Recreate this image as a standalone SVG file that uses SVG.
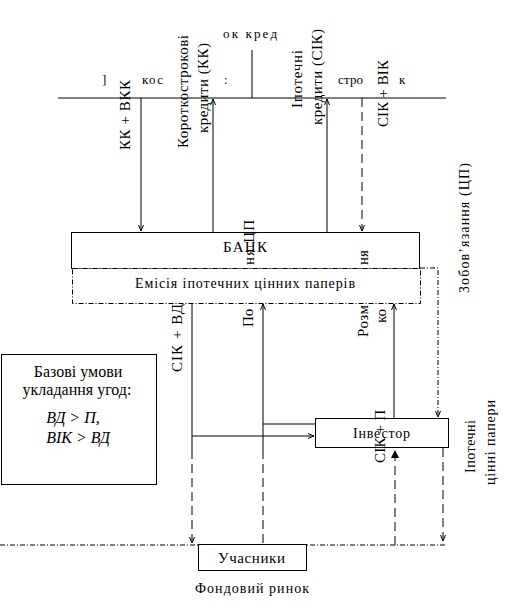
<svg xmlns="http://www.w3.org/2000/svg" width="510" height="611" viewBox="0 0 510 611">
<style>
text{font-family:"Liberation Serif","DejaVu Serif","Times New Roman",serif;fill:#000}
.f13{font-size:13px}.f14{font-size:14px}.f15{font-size:15px}.f16{font-size:16px}
.ln{stroke:#000;stroke-width:1;fill:none}
.dash{stroke:#000;stroke-width:1;fill:none;stroke-dasharray:9,5}
.dd{stroke:#000;stroke-width:1;fill:none;stroke-dasharray:5,2,1,2}
.box{fill:#fff;stroke:#000;stroke-width:1}
.ddbox{fill:#fff;stroke:#000;stroke-width:1;stroke-dasharray:5,2,1,2}
</style>
<defs>
<marker id="arr" markerUnits="userSpaceOnUse" markerWidth="7" markerHeight="7" refX="6" refY="3.5" orient="auto"><path d="M0,1 L6,3.5 L0,6" fill="none" stroke="#000" stroke-width="1"/></marker>
<marker id="arrf" markerUnits="userSpaceOnUse" markerWidth="9" markerHeight="9" refX="8" refY="4.5" orient="auto"><path d="M0,0.5 L8,4.5 L0,8.5 z" fill="#000"/></marker>
</defs>
<rect width="510" height="611" fill="#fff"/>
<g id="connectors">
<line class="ln" x1="58" y1="98" x2="446" y2="98"/>
<line class="ln" x1="252" y1="50" x2="252" y2="98"/>
<line class="ln" x1="141" y1="98" x2="141" y2="231" marker-end="url(#arr)"/>
<line class="ln" x1="213" y1="232" x2="213" y2="99" marker-end="url(#arr)"/>
<line class="ln" x1="327" y1="232" x2="327" y2="99" marker-end="url(#arr)"/>
<line class="dash" x1="362" y1="98" x2="362" y2="231" marker-end="url(#arr)"/>
<polyline class="dd" points="420,268 438,268 438,417" marker-end="url(#arr)"/>
<line class="ln" x1="192" y1="303" x2="192" y2="450"/>
<line class="dash" x1="192" y1="450" x2="192" y2="543" marker-end="url(#arr)"/>
<line class="ln" x1="263" y1="450" x2="263" y2="304" marker-end="url(#arr)"/>
<line class="dash" x1="263" y1="450" x2="263" y2="545"/>
<line class="ln" x1="263" y1="424" x2="315" y2="424"/>
<line class="ln" x1="192" y1="436" x2="314" y2="436" marker-end="url(#arr)"/>
<line class="ln" x1="394" y1="418" x2="394" y2="304" marker-end="url(#arr)"/>
<line class="dash" x1="395" y1="545" x2="395" y2="450" marker-end="url(#arrf)"/>
<line class="dash" x1="443" y1="448" x2="443" y2="541" marker-end="url(#arr)"/>
<line class="dd" x1="0" y1="545" x2="446" y2="545"/>
</g>
<g id="bank">
<rect class="box" x="71.5" y="232.5" width="348" height="36"/>
<text class="f15" x="223" y="252" textLength="44">БАНК</text>
</g>
<g id="emission">
<rect class="ddbox" x="72.5" y="268.5" width="348" height="35"/>
<text class="f14" x="135" y="288" textLength="220">Емісія іпотечних цінних паперів</text>
</g>
<g id="investor">
<rect class="box" x="315.5" y="418.5" width="133" height="29"/>
<text class="f14" x="353" y="438" textLength="57">Інвестор</text>
</g>
<g id="participants">
<rect class="box" x="198.5" y="544.5" width="108" height="26"/>
<text class="f15" x="218" y="563" textLength="67">Учасники</text>
</g>
<g id="conditions">
<rect class="box" x="1.5" y="354.5" width="155" height="130"/>
<text class="f16" x="78" y="377" text-anchor="middle">Базові умови</text>
<text class="f16" x="77" y="395" text-anchor="middle">укладання угод:</text>
<text class="f16" x="73" y="423" text-anchor="middle" font-style="italic">ВД &gt; П,</text>
<text class="f16" x="78" y="443" text-anchor="middle" font-style="italic">ВІК &gt; ВД</text>
</g>
<g id="labels">
<text class="f13" x="223" y="38" textLength="54">ок кред</text>
<text class="f13" x="102" y="84">]</text>
<text class="f13" x="142" y="84" textLength="21">кос</text>
<text class="f13" x="224" y="84">:</text>
<text class="f13" x="338" y="84" textLength="25">стро</text>
<text class="f13" x="399" y="84">к</text>
<text class="f15" transform="translate(130,150) rotate(-90)" textLength="70">КК + ВКК</text>
<text class="f15" transform="translate(188,148) rotate(-90)" textLength="113">Короткострокові</text>
<text class="f15" transform="translate(208,133) rotate(-90)" textLength="90">кредити (КК)</text>
<text class="f15" transform="translate(302,108) rotate(-90)" textLength="58">Іпотечні</text>
<text class="f15" transform="translate(322,125) rotate(-90)" textLength="96">кредити (СІК)</text>
<text class="f15" transform="translate(388,127) rotate(-90)" textLength="67">СІК + ВІК</text>
<text class="f14" transform="translate(469,293) rotate(-90)" textLength="130">Зобов’язання (ЦП)</text>
<text class="f15" transform="translate(182,372) rotate(-90)" textLength="68">СІК + ВД</text>
<text class="f15" transform="translate(253,327) rotate(-90)">По</text>
<text class="f15" transform="translate(254,265) rotate(-90)" textLength="45">ня ЦП</text>
<text class="f15" transform="translate(368,337) rotate(-90)" textLength="32">Розм</text>
<text class="f15" transform="translate(368,265) rotate(-90)">ня</text>
<text class="f15" transform="translate(386,323) rotate(-90)">ко</text>
<text class="f15" transform="translate(385,463) rotate(-90)" textLength="53">СІК + П</text>
<text class="f14" transform="translate(475,473) rotate(-90)" textLength="53">Іпотечні</text>
<text class="f14" transform="translate(495,485) rotate(-90)" textLength="85">цінні папери</text>
<text class="f14" x="195" y="593" textLength="114">Фондовий ринок</text>
</g>
</svg>
